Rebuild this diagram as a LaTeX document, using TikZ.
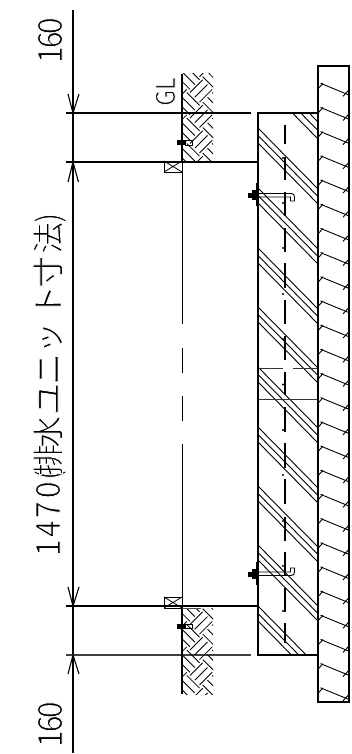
\documentclass[tikz,border=0pt]{standalone}
\usepackage{fontspec}
\setmainfont{Noto Sans CJK JP}
\tikzset{
  dimline/.style={line width=1.1pt,black},
  thinline/.style={line width=1pt,black},
  outline/.style={line width=2.2pt,black},
  hatchline/.style={line width=.9pt,black},
  earthline/.style={line width=.85pt,black},
  centerdash/.style={line width=1.6pt,black},
  dimtext/.style={rotate=90,anchor=base west,inner sep=0pt,text=black,font=\fontsize{32}{32}\selectfont},
}
\newcommand{\thinon}{\special{pdf:code 2 Tr 1 1 1 RG 0.8 w}}
\newcommand{\thinoff}{\special{pdf:code 0 Tr 0 0 0 RG}}
\newcommand{\gl}[2]{\makebox[0pt]{\thinon #2\thinoff}\hspace{#1pt}}
\newcommand{\dg}[2]{\makebox[0pt]{\scalebox{.95}[1.05]{\thinon #2\thinoff}}\hspace{#1pt}}
\newcommand{\earthhatch}{%
  \foreach \i in {-8,...,8}{\foreach \j in {-8,...,8}{%
    \pgfmathtruncatemacro{\parity}{mod(abs(\i+\j),2)}%
    \ifnum\parity=0
      \foreach \f in {0,.375,.75}{\draw[earthline] ({\i*18},{(\j+\f)*18}) -- ({(\i+1)*18},{(\j+\f)*18});}%
    \else
      \foreach \f in {.125,.5,.875}{\draw[earthline] ({(\i+\f)*18},{(\j-.125)*18}) -- ({(\i+\f)*18},{(\j+.875)*18});}%
    \fi
  }}%
}
\begin{document}
\begin{tikzpicture}[x=1pt,y=-1pt]
\useasboundingbox (0,0) rectangle (351,754);
% dimension line
\draw[dimline] (73,10) -- (73,753);
\foreach \yy in {113,162,606,655}{\coordinate (e\yy) at (66,\yy);}
\draw[dimline] (e113) -- (251,113);
\draw[line width=1.4pt] (e162) -- (258,162);
\draw[dimline] (e606) -- (258,606);
\draw[line width=1.3pt,black!75] (e655) -- (251,655);
% arrows
\draw[dimline] (68,94) -- (73,113) -- (79,94);
\draw[dimline] (68,182) -- (73,162) -- (78.5,182);
\draw[dimline] (68,587) -- (73,606) -- (79,587);
\draw[dimline] (68,674) -- (73,655) -- (79,674);
% earth hatch
\begin{scope}
\clip (183,74) rectangle (213,162);
\begin{scope}[shift={(190,118)},rotate=45]\earthhatch\end{scope}
\end{scope}
\begin{scope}
\clip (183,608) rectangle (213,694);
\begin{scope}[shift={(190,650)},rotate=45]\earthhatch\end{scope}
\end{scope}
% ground lines
\draw[outline] (182,74) -- (182,162);
\draw[outline] (182,606) -- (182,694);
\draw[thinline] (182,162) -- (182,324) (182,348) -- (182,372.5) (182,396) -- (182,421) (182,444) -- (182,606);
% timber blocks
\draw[line width=.9pt] (164,161) rectangle (182,172);
\draw[line width=.8pt] (164,161) -- (182,172) (164,172) -- (182,161);
\draw[line width=.9pt] (164,597) rectangle (182,608);
\draw[line width=.8pt] (164,597) -- (182,608) (164,608) -- (182,597);
\draw[line width=1pt,black!70] (182,608) -- (201,608);
% small ground bolts
\fill (177,140.2) rectangle (185.5,145.5);
\draw[line width=.9pt] (185.5,140.5) rectangle (192.5,145);
\fill (177,623.5) rectangle (185.5,628.8);
\draw[line width=.9pt] (185.5,624) rectangle (192.5,628.5);
% concrete hatch
\begin{scope}
\clip (258,113) rectangle (318,655);
\foreach \yy in {61,69.6,78,128,135.5,143,188,195.5,203,248,255.5,263,307,314.5,322,367,374.5,382,427,434.5,442,486,493.5,501,545,552.5,560,606,613.5,621}{
  \draw[hatchline] (258,\yy) -- (318,{\yy+61});
}
\end{scope}
% cross joints
\draw[line width=.9pt,black!80] (258,368) -- (283,368) (293,368) -- (318,368);
\draw[line width=.9pt,black!80] (258,399) -- (318,399);
% box and slab
\draw[outline] (258,113) rectangle (318,655);
\draw[outline] (318,66) rectangle (349,702);
% slab hatch
\foreach \k in {0,...,25}{
  \pgfmathsetmacro{\yk}{83.3+24.18*\k}
  \draw[hatchline] (320.5,\yk) -- (349,\yk+11.7);
  \draw[hatchline] (318.5,\yk+5) -- (323,\yk);
  \draw[hatchline] (343,\yk+13) -- (349,\yk+6.5);
}
% centre dash line
\foreach \a/\b in {125/144,157/180,192/216,228/252,263/288,300/324,336/360,372/395,407/432,443/468,479/504,517/541,552/575,588/612,623/643}{
  \draw[centerdash] (285,\a) -- (285,\b);
}
\foreach \yy in {158,203,248,294,339,384.5,430,475,521,566,611}{
  \fill (283,\yy) circle (1.2);
}
% anchors
\draw[line width=.9pt] (258,193.5) -- (291,193.5) .. controls (293.5,193.5) and (294.5,195) .. (294.5,197) -- (294.5,201) -- (290.5,201) -- (290.5,197) -- (258,197);
\draw[line width=.9pt] (258,575.5) -- (291,575.5) .. controls (293.5,575.5) and (294.5,574) .. (294.5,572) -- (294.5,568) -- (290.5,568) -- (290.5,572) -- (258,572);
\fill (248,192.5) rectangle (258,197.5);
\fill (252,190) rectangle (256,200);
\fill (248,571.5) rectangle (258,576.5);
\fill (252,569) rectangle (256,579);
\draw[line width=2.8pt] (257.5,183) -- (257.5,206);
\draw[line width=2.8pt] (257.5,562) -- (257.5,585);
% texts
\node[dimtext] (top) at (62,55) {\dg{15}{1}\dg{14}{6}\dg{0}{0}};
\node[dimtext] (main) at (60,548) {\dg{19}{1}\dg{19}{4}\dg{20}{7}\dg{15}{0}\gl{15}{(}\gl{28}{排}\gl{33}{水}\gl{30}{ユ}\gl{31}{ニ}\gl{37}{ッ}\gl{29}{ト}\gl{34}{寸}\gl{20}{法}\gl{0}{)}};
\node[dimtext] (bottom) at (62,739) {\dg{15}{1}\dg{14}{6}\dg{0}{0}};
\node[rotate=90,anchor=base west,inner sep=0pt,text=black,font=\fontsize{25}{25}\selectfont] (gl) at (175,98) {\dg{14}{G}\dg{0}{L}};
\end{tikzpicture}
\end{document}
